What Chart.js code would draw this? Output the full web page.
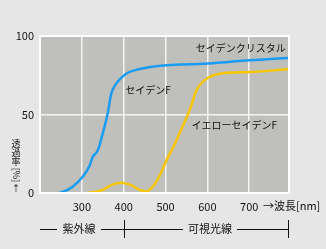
<!DOCTYPE html>
<html>
<head>
<meta charset="utf-8">
<script src="https://cdn.jsdelivr.net/npm/chart.js@4/dist/chart.umd.min.js"></script>
<style>
  html, body { margin: 0; padding: 0; background: #e6e6e6; }
  #wrap { width: 326px; height: 249px; }
</style>
</head>
<body>
<div id="wrap"><canvas id="chart" width="326" height="249"></canvas></div>
<script>
// ---- data ----
const xTicks = [300, 400, 500, 600, 700];
const yTicks = [0, 50, 100];

// セイデン (clear) transmittance curve
const clearWave = [246, 262, 278, 302, 318, 326, 338, 350, 362, 370, 378, 386, 406, 438, 470, 510, 560, 600, 650, 700, 750, 795];
const clearPct  = [0, 1.5, 4, 10.4, 17, 23, 27, 38, 51, 63, 68, 71, 76, 79, 80.5, 81.5, 82, 82.5, 83.5, 84.5, 85.3, 86];

// イエローセイデン transmittance curve
const yellowWave = [313, 338, 350, 370, 394, 418, 438, 452, 466, 482, 506, 518, 530, 558, 574, 594, 630, 702, 795];
const yellowPct  = [0, 1, 2, 5, 6.6, 5, 2, 1, 3, 9, 23, 29, 36, 53, 65.6, 72, 76, 77, 79];

const curveLabels = ['セイデンクリスタル', 'セイデンF', 'イエローセイデンF'];

const FONT = '"Noto Sans CJK JP", "Noto Sans", sans-serif';
const GREY = '#bfbfbc';
const BLUE = '#1a9cf2';
const YELLOW = '#f7c600';

function toPoints(xs, ys) {
    return xs.map((x, i) => ({ x: x, y: ys[i] }));
}

// background, border and all the loose text
const decor = {
    id: 'decor',
    beforeDraw(chart) {
        const { ctx, chartArea: a } = chart;
        ctx.save();
        ctx.fillStyle = GREY;
        ctx.fillRect(a.left, a.top, a.right - a.left, a.bottom - a.top);
        ctx.restore();
    },
    afterDatasetsDraw(chart) {
        const { ctx, chartArea: a, scales } = chart;
        const xs = scales.x, ys = scales.y;
        ctx.save();
        // white frame
        ctx.strokeStyle = '#ffffff';
        ctx.lineWidth = 2;
        ctx.strokeRect(a.left, a.top, a.right - a.left, a.bottom - a.top);

        ctx.fillStyle = '#111';
        ctx.font = '10px ' + FONT;
        ctx.textBaseline = 'middle';
        ctx.textAlign = 'left';
        ctx.fillText(curveLabels[0], xs.getPixelForValue(572), ys.getPixelForValue(92.4));
        ctx.fillText(curveLabels[1], xs.getPixelForValue(404), ys.getPixelForValue(65.6));
        ctx.fillText(curveLabels[2], xs.getPixelForValue(562), ys.getPixelForValue(43.3));

        // axis unit after the last tick
        ctx.font = '11px ' + FONT;
        ctx.fillText('→波長[nm]', 263, 206);

        // vertical y title
        ctx.font = '9px ' + FONT;
        ctx.textAlign = 'center';
        const cx = 16;
        ctx.fillText('透', cx, 144);
        ctx.fillText('過', cx, 153);
        ctx.fillText('率', cx, 162);
        ctx.save();
        ctx.translate(cx, 175);
        ctx.rotate(Math.PI / 2);
        ctx.fillText('[%]', 0, 0);
        ctx.restore();
        ctx.fillText('↑', cx, 189);

        // bottom ranges
        const yb = 229;
        const x400 = xs.getPixelForValue(400);
        ctx.strokeStyle = '#111';
        ctx.lineWidth = 1;
        ctx.beginPath();
        ctx.moveTo(a.left, yb + 0.5); ctx.lineTo(57, yb + 0.5);
        ctx.moveTo(101, yb + 0.5); ctx.lineTo(183, yb + 0.5);
        ctx.moveTo(237, yb + 0.5); ctx.lineTo(a.right, yb + 0.5);
        ctx.moveTo(Math.round(x400) + 0.5, 220); ctx.lineTo(Math.round(x400) + 0.5, 238);
        ctx.moveTo(Math.round(a.right) - 0.5, 220); ctx.lineTo(Math.round(a.right) - 0.5, 238);
        ctx.stroke();
        ctx.font = '11px ' + FONT;
        ctx.fillText('紫外線', 79, yb);
        ctx.fillText('可視光線', 210, yb);
        ctx.restore();
    }
};

new Chart(document.getElementById('chart'), {
    type: 'line',
    data: {
        datasets: [
            {
                data: toPoints(clearWave, clearPct),
                borderColor: BLUE,
                borderWidth: 2.5,
                pointRadius: 0,
                cubicInterpolationMode: 'monotone'
            },
            {
                data: toPoints(yellowWave, yellowPct),
                borderColor: YELLOW,
                borderWidth: 2.5,
                pointRadius: 0,
                cubicInterpolationMode: 'monotone'
            }
        ]
    },
    options: {
        responsive: false,
        animation: false,
        layout: { padding: { top: 36, right: 37, left: 0, bottom: 0 } },
        plugins: { legend: { display: false }, tooltip: { enabled: false } },
        scales: {
            x: {
                type: 'linear',
                min: 200,
                max: 795,
                afterBuildTicks: s => { s.ticks = xTicks.map(v => ({ value: v })); },
                afterFit: s => { s.height = 249 - 193; },
                grid: { color: '#f4f4f4', lineWidth: 1.5, drawTicks: false },
                border: { display: false },
                ticks: { color: '#111', font: { family: FONT, size: 11 }, padding: 7, maxRotation: 0 }
            },
            y: {
                min: 0,
                max: 100,
                afterBuildTicks: s => { s.ticks = yTicks.map(v => ({ value: v })); },
                afterFit: s => { s.width = 40; },
                grid: { color: '#f4f4f4', lineWidth: 1.5, drawTicks: false },
                border: { display: false },
                ticks: { color: '#111', font: { family: FONT, size: 11 }, padding: 6 }
            }
        }
    },
    plugins: [decor]
});
</script>
</body>
</html>
